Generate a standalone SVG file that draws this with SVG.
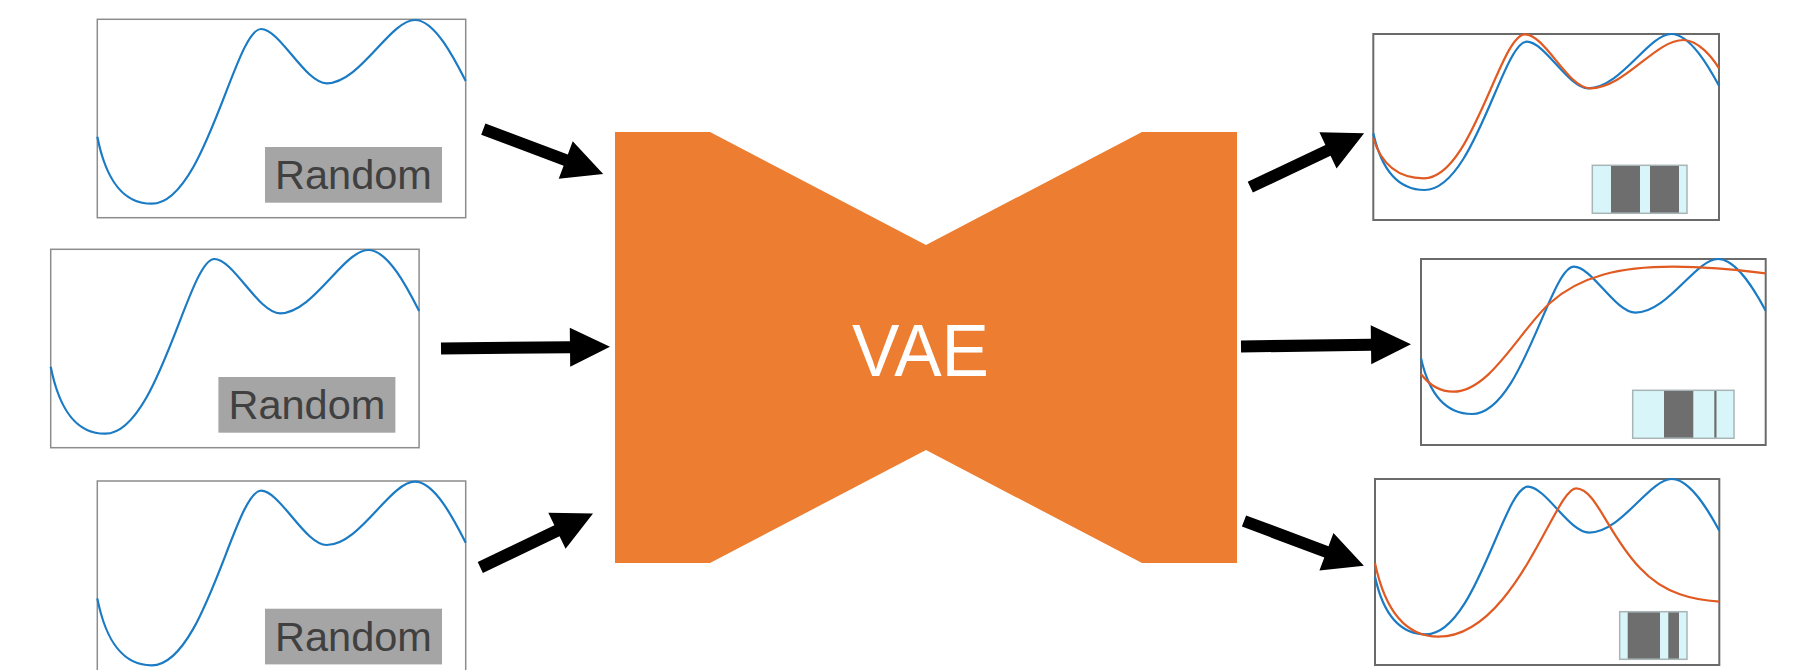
<svg xmlns="http://www.w3.org/2000/svg" xmlns:xlink="http://www.w3.org/1999/xlink" width="1804" height="670" viewBox="0 0 1804 670">
<style>
.inbox{fill:#fff;stroke:#8c8c8c;stroke-width:1.5}
.outbox{fill:#fff;stroke:#6a6a6a;stroke-width:2}
.blue{fill:none;stroke:#1a7bc4;stroke-width:2.2}
.orange{fill:none;stroke:#e05a22;stroke-width:2.2}
.lbl{fill:#a5a5a5}
.lbltxt{font-family:"Liberation Sans",Arial,sans-serif;font-size:41.5px;fill:#404040;text-anchor:middle}
.bar{fill:#d8f6f9;stroke:#a9b4b6;stroke-width:1.5}
.seg{fill:#6e6e6e}
.arrow{fill:#000}
.vae{fill:#ed7d31}
.vaetxt{font-family:"Liberation Sans",Arial,sans-serif;font-size:74px;fill:#fff;text-anchor:middle}
</style>
<defs>
<path id="inCurve" class="blue" d="M97.3,136.7 C105,175 120,203.7 151.7,203.7 C205,203.7 235,29 261,29 C280,29 305,83.3 326.7,83.3 C360,83.3 390,20 415,20 C435,20 455,60 465.7,81"/>
</defs>

<g id="input1">
<rect class="inbox" x="97.3" y="19.3" width="368.4" height="198.4"/>
<use xlink:href="#inCurve" href="#inCurve"/>
<rect class="lbl" x="265" y="147" width="177" height="55.7"/>
<text class="lbltxt" x="353.5" y="189.3">Random</text>
</g>

<g id="input2" transform="translate(-46.6,230)">
<rect class="inbox" x="97.3" y="19.3" width="368.4" height="198.4"/>
<use xlink:href="#inCurve" href="#inCurve"/>
<rect class="lbl" x="265" y="147" width="177" height="55.7"/>
<text class="lbltxt" x="353.5" y="189.3">Random</text>
</g>

<g id="input3" transform="translate(0,461.7)">
<rect class="inbox" x="97.3" y="19.3" width="368.4" height="198.4"/>
<use xlink:href="#inCurve" href="#inCurve"/>
<rect class="lbl" x="265" y="147" width="177" height="55.7"/>
<text class="lbltxt" x="353.5" y="189.3">Random</text>
</g>

<g id="vae">
<polygon class="vae" points="615,132 710,132 926,245 1142,132 1237,132 1237,563 1142,563 926,450 710,563 615,563"/>
<text class="vaetxt" x="920.5" y="376" textLength="137" lengthAdjust="spacingAndGlyphs">VAE</text>
</g>

<g id="output1">
<rect class="outbox" x="1373.3" y="34" width="345.7" height="186"/>
<path class="blue" d="M1373.3,133.3 C1380.6,165.6 1394.7,190 1424.5,190 C1474.2,190 1502.6,41.7 1526.8,41.7 C1544.8,41.7 1568.3,88.3 1588.3,88.3 C1620.5,88.3 1648.8,34 1671.3,34 C1690.3,34 1709.3,67.9 1719,85.7"/>
<path class="orange" d="M1373.3,138.3 C1380,160 1394,178.3 1424,178.3 C1472,178.3 1500,34.3 1525,34.3 C1545,34.3 1568,88.3 1590,88.3 C1625,88.3 1655,40 1683.3,40 C1698,40 1712,57 1719,68.3"/>
<rect class="bar" x="1592.3" y="165.3" width="94.7" height="48"/>
<rect class="seg" x="1611" y="166" width="29" height="46.6"/>
<rect class="seg" x="1650" y="166" width="29" height="46.6"/>
</g>

<g id="output2">
<rect class="outbox" x="1421" y="259" width="344.7" height="186"/>
<path class="blue" d="M1421,358.3 C1428.2,390 1442.4,414 1472,414 C1521.7,414 1550,266.7 1574,266.7 C1592,266.7 1615.4,312.7 1635.4,312.7 C1667.5,312.7 1695.7,259 1718.1,259 C1737.1,259 1756.1,292.9 1765.7,310.7"/>
<path class="orange" d="M1421,374 C1430,386 1440,391.7 1453.3,391.7 C1490,391.7 1520,330 1550,303 C1580,276 1620,266.7 1673.3,266.7 C1710,266.7 1740,270 1765.7,273.3"/>
<rect class="bar" x="1632.7" y="390.3" width="101.3" height="48"/>
<rect class="seg" x="1664" y="391" width="29.3" height="46.6"/>
<rect class="seg" x="1714.3" y="391" width="2.2" height="46.6"/>
</g>

<g id="output3">
<rect class="outbox" x="1375" y="479" width="344.3" height="186"/>
<path class="blue" d="M1375,576.7 C1382.2,609.5 1396.3,634.3 1426,634.3 C1475.5,634.3 1503.8,486.7 1527.9,486.7 C1545.8,486.7 1569.2,532.7 1589.2,532.7 C1621.2,532.7 1649.4,479 1671.8,479 C1690.7,479 1709.7,512.9 1719.3,530.7"/>
<path class="orange" d="M1375,563.3 C1385,610 1405,636.7 1438.3,636.7 C1515,636.7 1555,488.3 1576,488.3 C1596,488.3 1608,535 1640,568 C1665,595 1695,600 1719.3,601.7"/>
<rect class="bar" x="1619.7" y="611.7" width="67.3" height="47.6"/>
<rect class="seg" x="1627.7" y="612.4" width="32.3" height="46.2"/>
<rect class="seg" x="1668.3" y="612.4" width="10.7" height="46.2"/>
</g>

<g id="connectors">
<polygon class="arrow" transform="translate(483.3,129.2) rotate(20.5)" points="0,-6 88,-6 88,-20 128,0 88,20 88,6 0,6"/>
<polygon class="arrow" transform="translate(441,348.5) rotate(-0.6)" points="0,-6 129,-6 129,-19.5 169,0 129,19.5 129,6 0,6"/>
<polygon class="arrow" transform="translate(480.3,567.5) rotate(-25.6)" points="0,-6 85,-6 85,-20 125,0 85,20 85,6 0,6"/>
<polygon class="arrow" transform="translate(1250.3,187.2) rotate(-25.4)" points="0,-6 86,-6 86,-20 126,0 86,20 86,6 0,6"/>
<polygon class="arrow" transform="translate(1241,346.5) rotate(-0.74)" points="0,-6 130,-6 130,-19.5 170,0 130,19.5 130,6 0,6"/>
<polygon class="arrow" transform="translate(1244,521) rotate(20.5)" points="0,-6 88,-6 88,-20 128,0 88,20 88,6 0,6"/>
</g>
</svg>
